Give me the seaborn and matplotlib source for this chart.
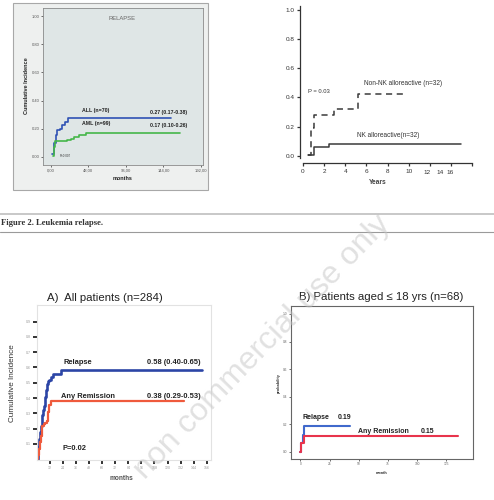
import matplotlib
matplotlib.use("Agg")
import matplotlib.pyplot as plt
import seaborn as sns
import pandas as pd
from matplotlib.patches import Rectangle
from matplotlib.lines import Line2D
from matplotlib.transforms import blended_transform_factory

# ---------------- data ----------------
# Panel 1 (RELAPSE, months)
all_t = [1.5, 3.8, 6, 8, 12, 14.5, 18, 22, 154]
all_v = [0.02, 0.097, 0.156, 0.19, 0.20, 0.227, 0.25, 0.274, 0.274]
aml_t = [2, 4, 5, 20, 25, 30, 36, 45, 165]
aml_v = [0.01, 0.07, 0.11, 0.12, 0.13, 0.145, 0.155, 0.17, 0.17]
p1_xticks = [0, 48, 96, 144, 192]
p1_xlabels = ["0,00", "48,00", "96,00", "144,00", "192,00"]
p1_yticks = [0, 0.2, 0.4, 0.6, 0.8, 1.0]
p1_ylabels = ["0.00", "0.20", "0.40", "0.60", "0.80", "1.00"]

# Panel 2 (years)
nonnk_t = [0.5, 0.75, 1.0, 2.9, 5.2, 9.8]
nonnk_v = [0.01, 0.19, 0.28, 0.32, 0.42, 0.42]
nk_t = [0.5, 1.0, 2.5, 15.0]
nk_v = [0.01, 0.06, 0.08, 0.08]
p2_xticks = [0, 2, 4, 6, 8, 10, 12, 14, 16]
p2_xlabels = ["0", "2", "4", "6", "8", "10", "", "", ""]
p2_extra = ["12", "14", "16"]
p2_yticks = [0, 0.2, 0.4, 0.6, 0.8, 1.0]

# Panel 3 (A, months)
rel_t = [0, 0.5, 1.2, 2, 2.8, 3.5, 4.2, 4.9, 5.6, 6.3, 7.0, 7.6, 8.3, 9.0, 10, 11, 12.5, 15, 21.8, 151.7]
rel_v = [0, 0.02, 0.08, 0.13, 0.18, 0.22, 0.26, 0.29, 0.32, 0.35, 0.38, 0.41, 0.45, 0.49, 0.51, 0.52, 0.54, 0.56, 0.58, 0.58]
rem_t = [0, 1, 2, 2.8, 3.6, 4.2, 4.9, 6, 7.4, 9, 10, 10.4, 11.2, 12.6, 135]
rem_v = [0, 0.03, 0.07, 0.11, 0.15, 0.19, 0.22, 0.23, 0.24, 0.25, 0.28, 0.31, 0.355, 0.38, 0.38]
p3_xticks = [12, 24, 36, 48, 60, 72, 84, 96, 108, 120, 132, 144, 156]
p3_yticks = [0.1, 0.2, 0.3, 0.4, 0.5, 0.6, 0.7, 0.8, 0.9]

# Panel 4 (B, months)
rel18_t = [0, 0.7, 2.0, 3.0, 42.5]
rel18_v = [0, 0.06, 0.12, 0.19, 0.19]
rem18_t = [0, 0.7, 2.0, 3.0, 134.6]
rem18_v = [0, 0.06, 0.06, 0.115, 0.115]
p4_xticks = [0, 25, 50, 75, 100, 125]
p4_yticks = [0, 0.2, 0.4, 0.6, 0.8, 1.0]

# ---------------- figure ----------------
sns.set_theme(style="white")
plt.rcParams["font.family"] = ["Liberation Sans", "DejaVu Sans"]

W, H = 494, 500
fig = plt.figure(figsize=(W / 100, H / 100), dpi=100)
fig.patch.set_facecolor("white")


def pax(x0, y0, x1, y1):
    return fig.add_axes([x0 / W, 1 - y1 / H, (x1 - x0) / W, (y1 - y0) / H])


def ftext(x, y, s, **kw):
    return fig.text(x / W, 1 - y / H, s, **kw)


def steps(ax, t, v, color, lw, **kw):
    df = pd.DataFrame({"t": t, "v": v})
    sns.lineplot(data=df, x="t", y="v", ax=ax, color=color, lw=lw,
                 drawstyle="steps-post", estimator=None, sort=False, **kw)
    ax.set_xlabel("")
    ax.set_ylabel("")
    return ax.lines[-1]


# ---- Panel 1 ----
fig.add_artist(Rectangle((13 / W, 1 - 190 / H), 195 / W, 187 / H, transform=fig.transFigure,
                         facecolor="#eef0ef", edgecolor="#a8a8a8", lw=0.8, zorder=0))
ax1 = pax(43, 8, 203, 165)
ax1.set_facecolor("#dfe6e6")
steps(ax1, all_t, all_v, "#2f52b4", 1.2)
steps(ax1, aml_t, aml_v, "#45b649", 1.2)
ax1.set_xlim(-10.2, 194.6)
ax1.set_ylim(-0.057, 1.057)
ax1.set_xticks(p1_xticks, p1_xlabels)
ax1.set_yticks(p1_yticks, p1_ylabels)
ax1.tick_params(labelsize=3, length=1.5, width=0.6, color="#555", labelcolor="#555", pad=1,
                bottom=True, left=True)
for s in ax1.spines.values():
    s.set_color("#8a8a8a")
    s.set_linewidth(0.6)
bold = dict(fontweight="bold", color="#222")
ax1.text(39.7, 0.333, "ALL (n=70)", fontsize=3.8, ha="left", va="center", **bold)
ax1.text(126.7, 0.319, "0.27 (0.17-0.38)", fontsize=3.7, ha="left", va="center", **bold)
ax1.text(39.7, 0.234, "AML (n=99)", fontsize=3.8, ha="left", va="center", **bold)
ax1.text(126.7, 0.22, "0.17 (0.10-0.26)", fontsize=3.7, ha="left", va="center", **bold)
ax1.text(11.5, 0.004, "P=0.007", fontsize=2.2, ha="left", va="center", color="#333")
ax1.text(91, 0.979, "RELAPSE", fontsize=4.2, ha="center", va="center", color="#666")
ftext(27, 86, "Cumulative Incidence", rotation=90, fontsize=4, ha="center", va="center", **bold)
ftext(123, 178, "months", fontsize=4, ha="center", va="center", **bold)

# ---- Panel 2 ----
ax2 = pax(303, 6, 472, 158)
steps(ax2, nonnk_t, nonnk_v, "#3a3a3a", 1.1)
ax2.lines[-1].set_dashes([4, 3])
steps(ax2, nk_t, nk_v, "#3a3a3a", 1.1)
ax2.set_xlim(0, 16)
ax2.set_ylim(-0.0137, 1.024)
sns.despine(ax=ax2)
ax2.spines["left"].set_position(("outward", 2.2))
ax2.spines["bottom"].set_position(("outward", 3.6))
for s in ("left", "bottom"):
    ax2.spines[s].set_color("#333")
    ax2.spines[s].set_linewidth(0.9)
ax2.set_xticks(p2_xticks, p2_xlabels)
ax2.set_yticks(p2_yticks, [f"{v:.1f}" for v in p2_yticks])
ax2.tick_params(axis="both", labelsize=4.6, length=2.5, width=0.9, color="#333",
                labelcolor="#333", pad=1.5, bottom=True, left=True)
ax2.tick_params(axis="y", length=2, pad=2)
trans2 = blended_transform_factory(ax2.transData, fig.transFigure)
for xv, lab in zip([11.7, 12.97, 13.9], p2_extra):
    ax2.text(xv, 1 - 172 / H, lab, transform=trans2, fontsize=4.6, ha="center", va="center",
             color="#333", clip_on=False)
ax2.text(9.47, 0.498, "Non-NK alloreactive (n=32)", fontsize=4.7, ha="center", va="center", color="#333")
ax2.text(0.47, 0.437, "P = 0.03", fontsize=4.2, ha="left", va="center", color="#333")
ax2.text(8.05, 0.143, "NK alloreactive(n=32)", fontsize=4.7, ha="center", va="center", color="#333")
ftext(378, 182, "Years", fontsize=4.8, ha="center", va="center", fontweight="bold", color="#444")

# ---- Caption ----
fig.add_artist(Line2D([0, 1], [1 - 213.5 / H] * 2, transform=fig.transFigure, color="#c4c4c4", lw=1.3))
fig.add_artist(Line2D([0, 1], [1 - 231.5 / H] * 2, transform=fig.transFigure, color="#9a9a9a", lw=0.8))
ftext(0.5, 223, "Figure 2. Leukemia relapse.", family=["Liberation Serif", "DejaVu Serif"],
      fontweight="bold", fontsize=6.2, ha="left", va="center", color="#333")

# ---- Panel 3 ----
ax3 = pax(37, 305, 211, 460)
steps(ax3, rel_t, rel_v, "#2c45a6", 1.9)
steps(ax3, rem_t, rem_v, "#ef5a3c", 1.6)
ax3.set_xlim(0, 160)
ax3.set_ylim(-0.005, 1.008)
for s in ax3.spines.values():
    s.set_color("#e2e2e2")
    s.set_linewidth(0.8)
ax3.set_xticks(p3_xticks, [str(v) for v in p3_xticks])
ax3.set_yticks(p3_yticks, [f"{v:.1f}" for v in p3_yticks])
ax3.tick_params(labelsize=2.6, length=3, width=1.2, color="#111", labelcolor="#999", pad=1.5,
                bottom=True, left=True)
b3 = dict(fontsize=5.4, fontweight="bold", color="#222", ha="left", va="center")
ax3.text(24.8, 0.629, "Relapse", **b3)
ax3.text(101.1, 0.629, "0.58 (0.40-0.65)", **b3)
ax3.text(22.1, 0.407, "Any Remission", **b3)
ax3.text(101.1, 0.407, "0.38 (0.29-0.53)", **b3)
ax3.text(23, 0.067, "P=0.02", **b3)
ftext(121, 479, "months", fontsize=4.7, ha="center", va="center", fontweight="bold", color="#555")
ftext(13, 383, "Cumulative Incidence", rotation=90, fontsize=5.9, ha="center", va="center", color="#333")
ftext(47, 298, "A)  All patients (n=284)", fontsize=8.2, ha="left", va="center", color="#222")

# ---- Panel 4 ----
ax4 = pax(291, 306, 473, 459)
steps(ax4, rel18_t, rel18_v, "#4069cc", 1.5)
steps(ax4, rem18_t, rem18_v, "#e8344c", 1.5)
ax4.set_xlim(-8.13, 147.7)
ax4.set_ylim(-0.053, 1.058)
for s in ax4.spines.values():
    s.set_color("#666")
    s.set_linewidth(0.8)
ax4.set_xticks(p4_xticks, [str(v) for v in p4_xticks])
ax4.set_yticks(p4_yticks, [f"{v:.1f}" for v in p4_yticks])
ax4.tick_params(labelsize=2.3, length=1.5, width=0.6, color="#555", labelcolor="#666", pad=1,
                bottom=True, left=True)
b4 = dict(fontsize=5.0, fontweight="bold", color="#222", ha="left", va="center")
ax4.text(1.9, 0.25, "Relapse", **b4)
ax4.text(32.1, 0.25, "0.19", **b4)
ax4.text(49, 0.145, "Any Remission", **b4)
ax4.text(103.2, 0.145, "0.15", **b4)
ftext(279, 383, "probability", rotation=90, fontsize=2.8, ha="center", va="center", fontweight="bold", color="#333")
ftext(382, 472.7, "month", fontsize=2.8, ha="center", va="center", fontweight="bold", color="#333")
ftext(299, 297, "B) Patients aged \u2264 18 yrs (n=68)", fontsize=8.2, ha="left", va="center", color="#222")

# ---- Watermark ----
ftext(262, 347, "non commercial use only", rotation=46, fontsize=23, ha="center", va="center",
      color="#c4c4c4", alpha=0.5, zorder=10, rotation_mode="anchor")

fig.savefig("out.png", dpi=100, facecolor="white")
